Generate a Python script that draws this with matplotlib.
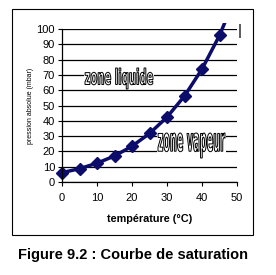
import matplotlib.pyplot as plt
from matplotlib.patches import Rectangle, PathPatch
from matplotlib.textpath import TextPath
from matplotlib.font_manager import FontProperties
from matplotlib.transforms import Affine2D

# donnees
temperature = [0, 5, 10, 15, 20, 25, 30, 35, 40, 45, 50]
pression = [6.1, 8.7, 12.3, 17.0, 23.4, 31.7, 42.4, 56.2, 73.8, 95.8, 123.4]
yticks = list(range(0, 101, 10))
xticks = list(range(0, 51, 10))

W, H = 276, 275


def texte_contour(fig, s, x0, x1, ytop, ybot):
    # texte etroit, blanc cerne de noir, place dans une boite en pixels
    fp = FontProperties(family='DejaVu Sans', weight='bold')
    path = TextPath((0, 0), s, size=100, prop=fp)
    bb = path.get_extents()
    sx = (x1 - x0) / bb.width
    sy = (ybot - ytop) / bb.height
    px = Affine2D().scale(1 / fig.dpi) + fig.dpi_scale_trans
    fond = Rectangle((x0 - 1, H - ybot + 3), x1 - x0 + 2, ybot - ytop - 4,
                     transform=px, facecolor='white', edgecolor='none', zorder=5)
    fig.patches.append(fond)
    t = Affine2D().translate(-bb.x0, -bb.y0).scale(sx, sy).translate(x0, H - ybot) + px
    fig.patches.append(PathPatch(path, transform=t, facecolor='white',
                                 edgecolor='black', linewidth=0.7, zorder=6))


def main():
    fig = plt.figure(figsize=(W / 100, H / 100), dpi=100)
    plt.rcParams['font.family'] = ['Liberation Sans', 'DejaVu Sans']

    # cadre exterieur
    fig.patches.append(Rectangle((12 / W, 1 - 235 / H), 241 / W, 226 / H,
                                 transform=fig.transFigure, fill=False,
                                 edgecolor='black', linewidth=0.8))

    ax = fig.add_axes([62 / W, 1 - 182 / H, 175 / W, 153 / H])
    ax.set_xlim(0, 50)
    ax.set_ylim(0, 100)
    ax.set_yticks(yticks)
    ax.set_xticks(xticks)
    ax.yaxis.grid(True, color='black', linewidth=0.9)
    ax.set_axisbelow(True)
    for s in ['top', 'right']:
        ax.spines[s].set_visible(False)
    for s in ['left', 'bottom']:
        ax.spines[s].set_linewidth(0.9)
    ax.tick_params(labelsize=8, length=3, width=0.8, direction='out', pad=2)
    ax.tick_params(axis='x', pad=5)

    line, = ax.plot(temperature, pression, color='#0c0c6a', linewidth=2.5,
                    marker='D', markersize=6)
    line.set_clip_path(Rectangle((-3, 0), 56, 104, transform=ax.transData))

    ax.set_xlabel('température (°C)', fontsize=7.8, fontweight='bold', labelpad=8)
    ax.set_ylabel('pression absolue (mbar)', fontsize=5, labelpad=2)

    texte_contour(fig, 'zone liquide', 85, 153, 68, 89)
    texte_contour(fig, 'zone vapeur', 158, 225, 133, 158)

    fig.text(240 / W, 1 - 31 / H, '|', fontsize=11, ha='center', va='center')

    fig.text(132.5 / W, 1 - 255 / H, 'Figure 9.2 : Courbe de saturation',
             fontsize=10.5, fontweight='bold', ha='center', va='center')

    fig.savefig('out.png', dpi=100)
    plt.close(fig)


if __name__ == '__main__':
    main()
